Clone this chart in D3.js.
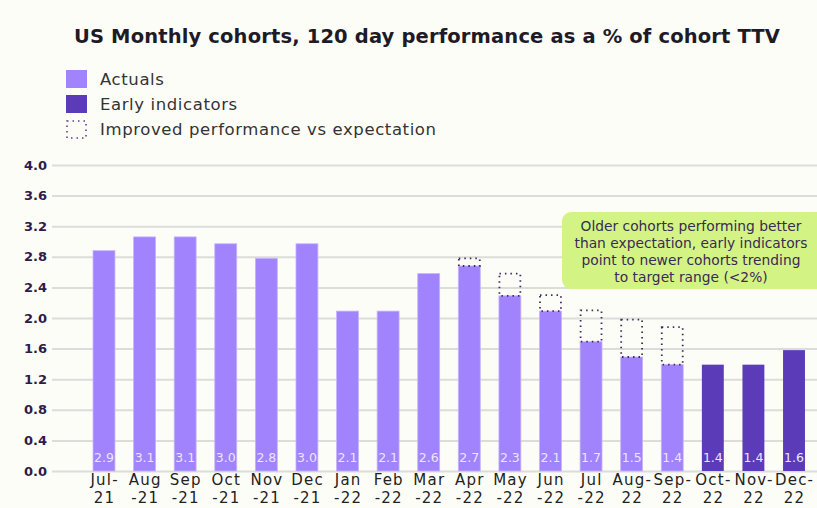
<!DOCTYPE html>
<html>
<head>
<meta charset="utf-8">
<script src="https://cdn.jsdelivr.net/npm/d3@7/dist/d3.min.js"></script>
<style>
  html, body { margin: 0; padding: 0; background: #fdfdf8; }
  svg { display: block; }
</style>
</head>
<body>
<svg id="chart" width="817" height="508"></svg>
<script>
// ---- data ----
const months = ["Jul-21","Aug-21","Sep-21","Oct-21","Nov-21","Dec-21","Jan-22","Feb-22","Mar-22","Apr-22","May-22","Jun-22","Jul-22","Aug-22","Sep-22","Oct-22","Nov-22","Dec-22"];
const tickLine1 = ["Jul-","Aug","Sep","Oct","Nov","Dec","Jan","Feb","Mar","Apr","May","Jun","Jul","Aug-","Sep-","Oct-","Nov-","Dec-"];
const tickLine2 = ["21","-21","-21","-21","-21","-21","-22","-22","-22","-22","-22","-22","-22","22","22","22","22","22"];
const actualMonths = months.slice(0, 15);
const actuals = [2.88, 3.06, 3.06, 2.97, 2.78, 2.97, 2.09, 2.09, 2.58, 2.68, 2.29, 2.09, 1.69, 1.49, 1.39];
const earlyMonths = ["Oct-22","Nov-22","Dec-22"];
const earlyIndicators = [1.39, 1.39, 1.58];
const expectedMonths = ["Apr-22","May-22","Jun-22","Jul-22","Aug-22","Sep-22"];
const expectedBase = [2.68, 2.29, 2.09, 1.69, 1.49, 1.39];
const expectedTop = [2.78, 2.58, 2.30, 2.10, 1.98, 1.88];
const yTicks = [0, 0.4, 0.8, 1.2, 1.6, 2.0, 2.4, 2.8, 3.2, 3.6, 4.0];
const labelActuals = ["2.9","3.1","3.1","3.0","2.8","3.0","2.1","2.1","2.6","2.7","2.3","2.1","1.7","1.5","1.4"];
const labelEarly = ["1.4","1.4","1.6"];
const legendItems = ["Actuals", "Early indicators", "Improved performance vs expectation"];
const noteLines = ["Older cohorts performing better", "than expectation, early indicators", "point to newer cohorts trending", "to target range (<2%)"];

// ---- styles ----
const C_ACT = "#a083fd";
const C_EARLY = "#5b3bb8";
const C_DARK = "#2e1b48";
const FONT = "'DejaVu Sans', sans-serif";

const svg = d3.select("#chart");
svg.append("rect").attr("width", 817).attr("height", 508).attr("fill", "#fdfdf8");

const x = d3.scaleBand().domain(months).range([83.7, 814.3]).paddingInner(0.46).paddingOuter(0.23);
const y = d3.scaleLinear().domain([0, 4]).range([471, 165]);

// title
svg.append("text").attr("x", 427).attr("y", 43).attr("text-anchor", "middle")
  .attr("font-family", FONT).attr("font-weight", 700).attr("font-size", 19.5)
  .attr("letter-spacing", 0.15)
  .attr("fill", "#1e1a26").text("US Monthly cohorts, 120 day performance as a % of cohort TTV");

// legend
const lg = svg.append("g");
legendItems.forEach((t, i) => {
  const yy = 70 + i * 25;
  if (i < 2) {
    lg.append("rect").attr("x", 66).attr("y", yy).attr("width", 21).attr("height", 18)
      .attr("fill", i === 0 ? C_ACT : C_EARLY);
  } else {
    lg.append("rect").attr("x", 67).attr("y", yy + 1).attr("width", 19).attr("height", 17)
      .attr("fill", "none").attr("stroke", "#5a3d8a").attr("stroke-width", 1.6)
      .attr("stroke-dasharray", "1.5,4");
  }
  lg.append("text").attr("x", 100).attr("y", yy + 15)
    .attr("font-family", FONT).attr("font-size", 16.5).attr("letter-spacing", 0.6)
    .attr("fill", "#333").text(t);
});

// gridlines + y axis
const yAxis = d3.axisLeft(y).tickValues(yTicks).tickSize(-(817 - 52)).tickFormat(d3.format(".1f"));
const ga = svg.append("g").attr("transform", "translate(52,0)").call(yAxis);
ga.select(".domain").remove();
ga.selectAll(".tick line").attr("stroke", "#dcdcd8").attr("stroke-width", 2);
ga.selectAll(".tick text").attr("x", -5).attr("font-family", FONT).attr("font-weight", 700)
  .attr("font-size", 13).attr("fill", C_DARK);

// x axis
const xAxis = d3.axisBottom(x).tickSize(0).tickFormat(() => "");
const gx = svg.append("g").attr("transform", "translate(0.6,471)").call(xAxis);
gx.select(".domain").remove();
gx.selectAll(".tick").each(function(d, i) {
  const t = d3.select(this).select("text").text(null)
    .attr("font-family", FONT).attr("font-size", 15).attr("letter-spacing", 1.2)
    .attr("fill", "#222").attr("y", 0);
  t.append("tspan").attr("x", 0).attr("dy", 14).text(tickLine1[i]);
  t.append("tspan").attr("x", 0).attr("dy", 18).text(tickLine2[i]);
});

// bars
svg.append("g").selectAll("rect").data(actuals).join("rect")
  .attr("x", (d, i) => x(actualMonths[i])).attr("width", x.bandwidth())
  .attr("y", d => y(d)).attr("height", d => y(0) - y(d))
  .attr("fill", C_ACT).attr("stroke", "#c4b3ff").attr("stroke-width", 0.8);
svg.append("g").selectAll("rect").data(earlyIndicators).join("rect")
  .attr("x", (d, i) => x(earlyMonths[i])).attr("width", x.bandwidth())
  .attr("y", d => y(d)).attr("height", d => y(0) - y(d))
  .attr("fill", C_EARLY);

// dotted expectation boxes
svg.append("g").selectAll("rect").data(expectedTop).join("rect")
  .attr("x", (d, i) => x(expectedMonths[i]) + 0.5).attr("width", x.bandwidth() - 1)
  .attr("y", d => y(d)).attr("height", (d, i) => y(expectedBase[i]) - y(d))
  .attr("fill", "none").attr("stroke", "#3d2b60").attr("stroke-width", 1.8)
  .attr("stroke-dasharray", "1.5,4");

// value labels
const vl = svg.append("g").attr("font-family", FONT).attr("font-size", 12.5)
  .attr("fill", "#ece6ff").attr("text-anchor", "middle");
labelActuals.forEach((t, i) => {
  vl.append("text").attr("x", x(actualMonths[i]) + x.bandwidth() / 2).attr("y", y(0) - 9).text(t);
});
labelEarly.forEach((t, i) => {
  vl.append("text").attr("x", x(earlyMonths[i]) + x.bandwidth() / 2).attr("y", y(0) - 9).text(t);
});

// annotation
const ag = svg.append("g");
ag.append("rect").attr("x", 562).attr("y", 212).attr("width", 272).attr("height", 77)
  .attr("rx", 9).attr("fill", "#d3f484");
noteLines.forEach((t, i) => {
  ag.append("text").attr("x", 691).attr("y", 231 + i * 17).attr("text-anchor", "middle")
    .attr("font-family", FONT).attr("font-size", 13.8).attr("fill", "#3a2a55").text(t);
});
</script>
</body>
</html>
